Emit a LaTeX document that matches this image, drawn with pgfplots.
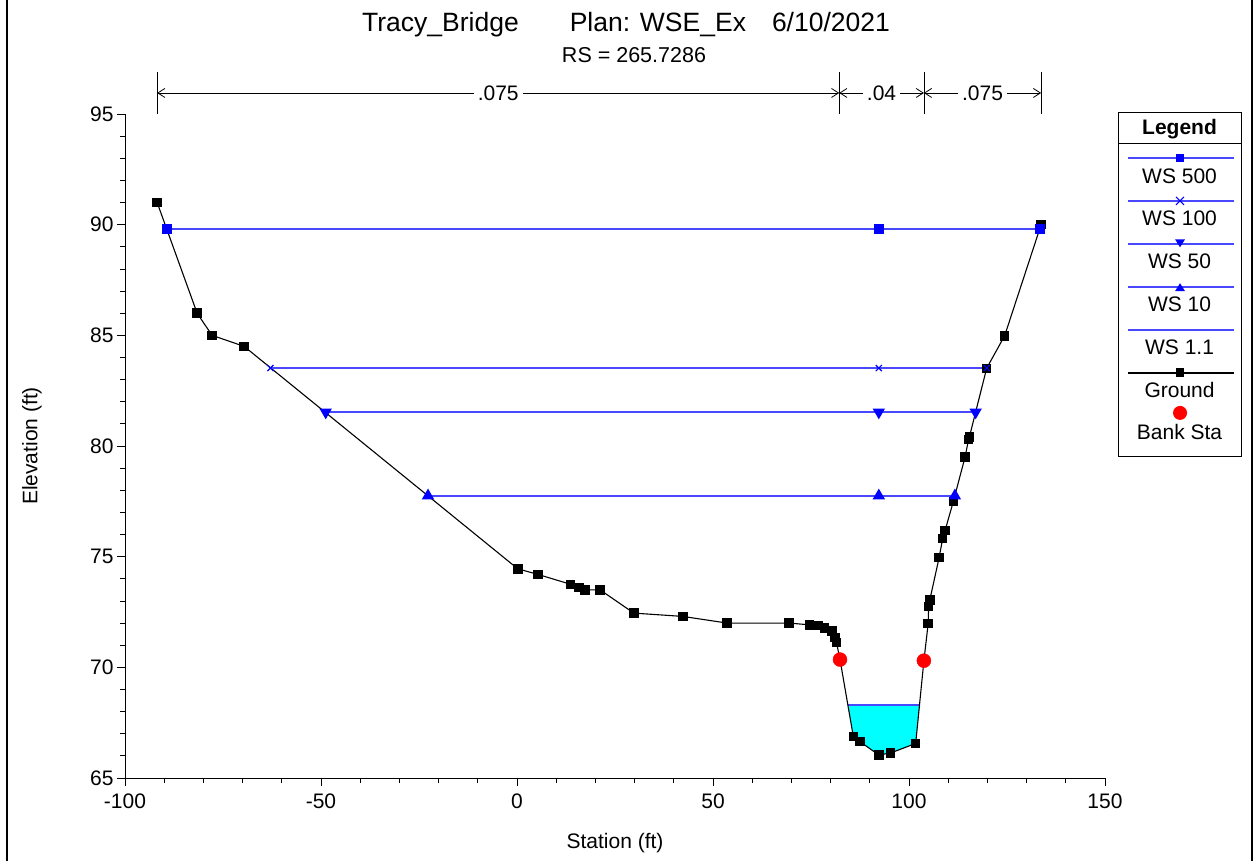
\documentclass[border=0pt]{standalone}
\usepackage{fontspec}
\setmainfont{Liberation Sans}
\usepackage{pgfplots}
\pgfplotsset{compat=1.18}
\usetikzlibrary{arrows.meta}

\definecolor{wsline}{RGB}{72,72,255}
\definecolor{wsmark}{RGB}{0,0,255}
\definecolor{flow}{RGB}{0,255,255}
\definecolor{bank}{RGB}{255,0,0}

\newcommand{\fs}{\fontsize{21}{25}\selectfont}
% one legend row: symbol on top, name centred below
\newcommand{\legrow}[4]{\tikz{%
  \path[use as bounding box] (0,1.6pt) rectangle (123pt,#1);%
  #2%
  \node[anchor=center,inner sep=0pt,font=\fs] at (61.5pt,#3) {#4};}}
\newcommand{\legline}[2]{\draw[#1,line width=2pt] (10pt,29.5pt) -- (116pt,29.5pt);#2}

\begin{document}
\begin{tikzpicture}
\begin{axis}[
  scale only axis, width=980pt, height=664pt,
  xmin=-100, xmax=150, ymin=65, ymax=95,
  axis lines*=left,
  axis line style={line width=0.8pt},
  xtick={-100,-50,...,150}, ytick={65,70,...,95},
  minor x tick num=4, minor y tick num=4,
  tick align=outside, major tick length=8pt, minor tick length=5pt,
  tick style={black, line width=0.8pt},
  tick label style={font=\fs},
  xticklabel style={yshift=-4pt},
  /pgf/number format/assume math mode=true,
  clip=false,
  xlabel={Station (ft)}, ylabel={Elevation (ft)},
  label style={font=\fs},
  xlabel style={at={(axis description cs:0.5,-0.0979)}, anchor=center},
  ylabel style={at={(axis description cs:-0.0949,0.5)}, anchor=center},
  legend style={at={(1.0133,1.0015)}, anchor=north west, draw=black,
    line width=1pt, fill=white, inner sep=0pt, outer sep=0pt,
    row sep=0pt, column sep=0pt,
    nodes={inner sep=0pt, outer sep=0pt, anchor=center}},
]

% water in the channel at WS 1.1
\addplot[fill=flow, draw=none, forget plot] coordinates {
  (84.5,68.3) (85.8,66.87) (87.5,66.64) (92.3,66.04) (95.3,66.13)
  (101.7,66.56) (102.7,68.3)} -- cycle;
\addplot[wsline, line width=1.7pt, forget plot] coordinates {(84.5,68.3) (102.7,68.3)};

% ground profile
\addplot[black, line width=1.1pt, mark=square*, mark size=4.2pt, forget plot] coordinates {
  (-91.8,91.0) (-81.6,86.0) (-77.8,85.0) (-69.6,84.5) (0.2,74.45) (5.3,74.2)
  (13.7,73.75) (15.8,73.6) (17.3,73.5) (21.2,73.5) (29.8,72.45) (42.3,72.3)
  (53.6,72.0) (69.4,72.0) (74.6,71.92) (76.9,71.88) (78.4,71.78) (80.4,71.65)
  (81.1,71.35) (81.5,71.12) (82.4,70.35) (85.8,66.87) (87.5,66.64) (92.3,66.04)
  (95.3,66.13) (101.7,66.56) (103.8,70.3) (104.9,71.99) (105.0,72.74)
  (105.3,73.04) (107.7,74.97) (108.6,75.83) (109.2,76.18) (111.3,77.49)
  (114.3,79.5) (115.2,80.3) (115.4,80.4) (119.8,83.51) (124.4,84.98) (133.7,90.0)};

% water surfaces
\addplot[wsline, line width=1.7pt, mark=square*, mark size=4.2pt,
  mark options={wsmark, fill=wsmark}, forget plot]
  coordinates {(-89.35,89.8) (92.3,89.8) (133.4,89.8)};
\addplot[wsline, line width=1.7pt, mark=x, mark size=4.3pt,
  mark options={wsmark, line width=1.1pt}, forget plot]
  coordinates {(-62.9,83.52) (92.3,83.52) (119.8,83.52)};
\addplot[wsline, line width=1.7pt, mark=triangle*, mark size=5.5pt,
  mark options={wsmark, fill=wsmark, rotate=180}, forget plot]
  coordinates {(-48.8,81.53) (92.3,81.53) (117.0,81.53)};
\addplot[wsline, line width=1.7pt, mark=triangle*, mark size=5.5pt,
  mark options={wsmark, fill=wsmark}, forget plot]
  coordinates {(-22.7,77.75) (92.3,77.75) (111.7,77.75)};

% bank stations
\addplot[only marks, mark=*, mark size=7pt, mark options={bank, fill=bank}, forget plot]
  coordinates {(82.4,70.35) (103.8,70.3)};

% Manning's n regions
\draw[line width=0.8pt] (axis cs:-91.8,95) -- (axis cs:-91.8,96.9);
\draw[line width=0.8pt] (axis cs:82.2,95) -- (axis cs:82.2,96.9);
\draw[line width=0.8pt] (axis cs:103.8,95) -- (axis cs:103.8,96.9);
\draw[line width=0.8pt] (axis cs:133.7,95) -- (axis cs:133.7,96.9);
\draw[line width=0.8pt, {Straight Barb[length=7pt,width=9pt]}-{Straight Barb[length=7pt,width=9pt]}]
  (axis cs:-91.8,95.95) -- node[fill=white, inner sep=4pt, font=\fs] {.075} (axis cs:82.2,95.95);
\draw[line width=0.8pt, {Straight Barb[length=7pt,width=9pt]}-{Straight Barb[length=7pt,width=9pt]}]
  (axis cs:82.2,95.95) -- node[fill=white, inner sep=4pt, font=\fs] {.04} (axis cs:103.8,95.95);
\draw[line width=0.8pt, {Straight Barb[length=7pt,width=9pt]}-{Straight Barb[length=7pt,width=9pt]}]
  (axis cs:103.8,95.95) -- node[fill=white, inner sep=4pt, font=\fs] {.075} (axis cs:133.7,95.95);

% legend
\addlegendimage{empty legend}
\addlegendentry{\tikz[baseline=0pt]{\path[use as bounding box] (0,0) rectangle (123pt,30pt);
  \node[anchor=center,inner sep=0pt,font=\bfseries\fs] at (61.5pt,15pt) {Legend};
  \draw[line width=1pt] (0,0) -- (123pt,0);}}
\addlegendimage{empty legend}
\addlegendentry{\legrow{43pt}{\legline{wsline}{\fill[wsmark] (57.8pt,25.3pt) rectangle (66.2pt,33.7pt);}}{11pt}{WS 500}}
\addlegendimage{empty legend}
\addlegendentry{\legrow{43pt}{\legline{wsline}{\draw[wsmark,line width=1.1pt] (58pt,25.5pt) -- (66pt,33.5pt) (58pt,33.5pt) -- (66pt,25.5pt);}}{11pt}{WS 100}}
\addlegendimage{empty legend}
\addlegendentry{\legrow{43pt}{\legline{wsline}{\fill[wsmark] (57pt,34pt) -- (67pt,34pt) -- (62pt,26pt) -- cycle;}}{11pt}{WS 50}}
\addlegendimage{empty legend}
\addlegendentry{\legrow{43pt}{\legline{wsline}{\fill[wsmark] (57pt,25pt) -- (67pt,25pt) -- (62pt,33pt) -- cycle;}}{11pt}{WS 10}}
\addlegendimage{empty legend}
\addlegendentry{\legrow{43pt}{\legline{wsline}{}}{11pt}{WS 1.1}}
\addlegendimage{empty legend}
\addlegendentry{\legrow{43pt}{\legline{black}{\fill[black] (57.8pt,25.3pt) rectangle (66.2pt,33.7pt);}}{11pt}{Ground}}
\addlegendimage{empty legend}
\addlegendentry{\legrow{55pt}{\fill[bank] (62pt,44pt) circle (7pt);}{24pt}{Bank Sta}}
\end{axis}

% titles
\node[font=\fontsize{26.5}{31}\selectfont, inner sep=0pt, anchor=base west] at (237pt,746pt)
  {Tracy\_Bridge\hspace{51pt}Plan: WSE\_Ex\hspace{26pt}6/10/2021};
\node[font=\fontsize{21.5}{25}\selectfont] at (509pt,723pt) {RS = 265.7286};

% page frame
\draw[line width=2.5pt] (-118pt,-83pt) -- (-118pt,778pt);
\draw[line width=2.5pt] (1127pt,-83pt) -- (1127pt,778pt);

\pgfresetboundingbox
\useasboundingbox (-125pt,-83pt) rectangle (1130pt,778pt);
\end{tikzpicture}
\end{document}
